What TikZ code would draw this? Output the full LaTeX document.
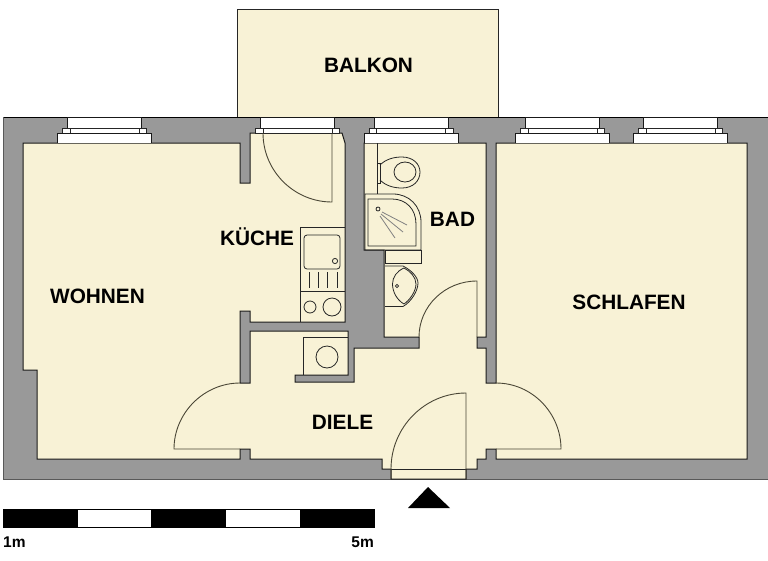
\documentclass[tikz,border=0pt]{standalone}
\usepackage{fontspec}
\setmainfont{Liberation Sans}
\definecolor{floorcream}{HTML}{F8F2D6}
\definecolor{wallgray}{HTML}{999999}
\definecolor{doorline}{HTML}{4A4636}
\begin{document}
\begin{tikzpicture}[x=1pt,y=-1pt,line join=miter,
    room/.style={font=\fontsize{20.8}{24}\selectfont\bfseries,inner sep=0pt,anchor=base},
    scale label/.style={font=\fontsize{15.5}{18}\selectfont\bfseries,inner sep=0pt,anchor=base},
    outline/.style={draw=black!90,line width=1pt},
    thin part/.style={draw=black!85,line width=.8pt},
    door/.style={draw=doorline,line width=.9pt}]
  \useasboundingbox (0,0) rectangle (768,560);
  \draw[thin part,fill=floorcream] (237.5,117) -- (237.5,9) -- (498.5,9) -- (498.5,117);
  \fill[wallgray] (3,117) rectangle (768,479);
  \draw[black,line width=1pt] (768,117) -- (3,117);
  \draw[black!65,line width=1pt] (3,117) -- (3,479) -- (768,479);
  \draw[outline,fill=floorcream] (240,383) -- (240,311) -- (250,311) -- (250,322) -- (345,322)
    -- (345,143) -- (342,133) -- (250,133) -- (250,183) -- (240,183) -- (240,143) -- (23,143)
    -- (23,370) -- (37,370) -- (37,459) -- (240,459) -- (240,449) -- (250,449) -- (250,459)
    -- (382,459) -- (382,469) -- (391,469) -- (391,479) -- (466,479) -- (466,469) -- (477,469)
    -- (477,459) -- (486,459) -- (486,449) -- (496,449) -- (496,459) -- (747,459) -- (747,143)
    -- (496,143) -- (496,383) -- (486,383) -- (486,348) -- (477,348) -- (477,337) -- (486,337)
    -- (486,143) -- (364,143) -- (364,250) -- (384,250) -- (384,337) -- (419,337) -- (419,348)
    -- (354,348) -- (354,382) -- (295,382) -- (295,375) -- (348,375) -- (348,331) -- (250,331)
    -- (250,383) -- cycle;
  \draw[thin part] (391,469) -- (466,469);
  \foreach \xc in {104.5,297.5,411,562.5,680.5}{
    \draw[outline,fill=white] (\xc-37,117) rectangle (\xc+37,128);
    \draw[thin part,fill=white] (\xc-42,128) rectangle (\xc+42,133.5);
    \draw[thin part] (\xc-34.5,128) -- (\xc-34.5,133.5) (\xc+34.5,128) -- (\xc+34.5,133.5);
  }
  \foreach \xc in {104.5,411,562.5,680.5}
    \draw[outline,fill=white] (\xc-47,143) -- (\xc-47,133.5) -- (\xc+47,133.5) -- (\xc+47,143);
  % doors
  \draw[door] (263,133) .. controls (263,171) and (294,202) .. (332,202) -- (332,133);
  \draw[door] (240,383) .. controls (204,383) and (174,413) .. (174,449) -- (240,449);
  \draw[door] (496,383) .. controls (532,383) and (561,413) .. (561,449) -- (496,449);
  \draw[door] (391,479) -- (391,469) .. controls (391,427) and (425,393) .. (466,393) -- (466,479);
  \draw[door] (419,337) .. controls (419,306) and (445,281) .. (477,281) -- (477,337);
  % bad
  \draw[thin part] (377,143) -- (377,194);
  \draw[thin part] (377,163) rectangle (380,183);
  \draw[thin part] (380,165) .. controls (386,159) and (394,157) .. (402,157)
    .. controls (413,157) and (420,164) .. (420,172) .. controls (420,181) and (413,188) .. (402,188)
    .. controls (394,188) and (386,186) .. (380,180);
  \draw[thin part] (405,172) ellipse [x radius=11,y radius=10];
  \draw[thin part] (365,250) -- (365,194) -- (393,194) .. controls (409,194) and (421,206) .. (421,222)
    -- (421,250) -- cycle;
  \draw[thin part] (368,246) -- (368,199) -- (392,199) .. controls (406,199) and (416,209) .. (416,224)
    -- (416,246) -- cycle;
  \draw[thin part] (378,209) circle [radius=2];
  \draw[gray,line width=.8pt] (382,212) -- (407,225) (381,214) -- (403,232) (380,216) -- (395,238);
  \draw[thin part] (385,250) rectangle (421,263);
  \draw[thin part] (385,266) -- (403,266) .. controls (411,270) and (418,277) .. (418,283)
    .. controls (418,291) and (411,302) .. (403,306.5) -- (385,306.5);
  \draw[thin part] (404,268) .. controls (397,271) and (392.5,277) .. (392.5,284)
    .. controls (392.5,292) and (397,300) .. (404,304) .. controls (410,300) and (416,291) .. (416,284)
    .. controls (416,277) and (410,271) .. (404,268);
  \draw[thin part] (397,286) circle [radius=1.6];
  % kueche
  \draw[thin part] (345,227) -- (300,227) -- (300,322);
  \draw[thin part,rounded corners=3pt] (304,235) rectangle (340,269);
  \draw[thin part] (335,261) circle [radius=2.6];
  \foreach \xl in {309,318,327,337}
    \draw[thin part] (\xl,272) -- (\xl,288);
  \draw[thin part] (300,291) -- (345,291);
  \draw[thin part] (310,307) circle [radius=6];
  \draw[thin part] (332,307) circle [radius=9];
  % waschen
  \draw[thin part] (348,337) -- (303,337) -- (303,375);
  \draw[thin part] (327,357) circle [radius=11];
  % treppe und massstab
  \fill[black] (428,487) -- (450,508) -- (408,508) -- cycle;
  \draw[black,line width=.8pt] (3,509.5) rectangle (374,527.5);
  \foreach \xb in {3,151,300}
    \fill[black] (\xb,509) rectangle (\xb+74.5,528);
  \node[room] (balkon) at (368.5,72) {BALKON};
  \node[room] (wohnen) at (97.5,303) {WOHNEN};
  \node[room] (kueche) at (257,245) {KÜCHE};
  \node[room] (bad) at (452.5,226) {BAD};
  \node[room] (schlafen) at (629,309) {SCHLAFEN};
  \node[room] (diele) at (342.5,429) {DIELE};
  \node[scale label,anchor=base west] (start) at (3,547) {1m};
  \node[scale label,anchor=base east] (ziel) at (374,547) {5m};
\end{tikzpicture}
\end{document}
